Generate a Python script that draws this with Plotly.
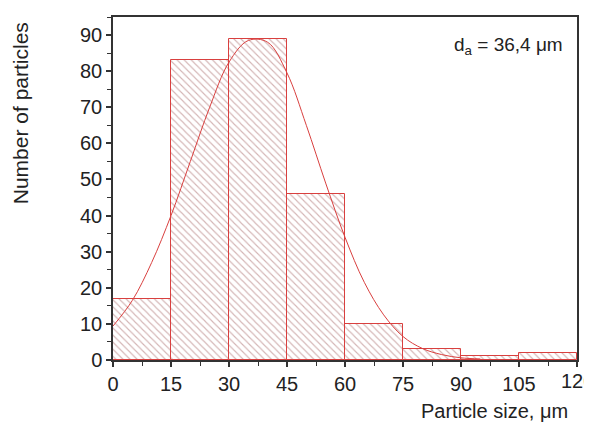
import plotly.graph_objects as go

# histogram bins (left edge) and counts
bin_left = [0, 15, 30, 45, 60, 75, 90, 105]
bin_width = 15
counts = [17, 83, 89, 46, 10, 3, 1, 2]

# fitted curve
fit_x = [0, 5, 10, 15, 20, 25, 30, 35, 40, 45, 50, 55, 60, 65, 70, 75, 80, 85, 90, 95]
fit_y = [9.4, 16.5, 27, 40, 55, 70, 82.5, 88.5, 88, 79.5, 65, 49, 34, 21.5, 12.5, 6.5, 3.2, 1.5, 0.6, 0.3]

x_ticks = [0, 15, 30, 45, 60, 75, 90, 105, 120]
y_ticks = [0, 10, 20, 30, 40, 50, 60, 70, 80, 90]

FONT = "Liberation Sans, Arial, sans-serif"
RED = "#d9403f"
TXT = "#222222"
centers = [b + bin_width / 2 for b in bin_left]

fig = go.Figure()

# hatched fill
fig.add_trace(go.Bar(
    x=centers, y=counts, width=bin_width,
    marker=dict(
        color="white",
        line=dict(width=0),
        pattern=dict(shape="\\", fgcolor="#a86a6a", bgcolor="white",
                     size=5, solidity=0.22),
    ),
    showlegend=False,
))
# red outlines on top
fig.add_trace(go.Bar(
    x=centers, y=counts, width=bin_width,
    marker=dict(color="rgba(0,0,0,0)", line=dict(color=RED, width=1)),
    showlegend=False,
))

fig.add_trace(go.Scatter(
    x=fit_x, y=fit_y, mode="lines",
    line=dict(color=RED, width=1, shape="spline"),
    showlegend=False,
))

axis_common = dict(
    showgrid=False, zeroline=False, showline=True, mirror=True,
    linecolor="#333333", linewidth=1.5,
    ticks="outside", ticklen=5, tickwidth=1.5, tickcolor="#333333",
    tickfont=dict(family=FONT, size=20, color=TXT),
)

fig.update_xaxes(range=[0, 120], tickvals=x_ticks,
                 minor=dict(dtick=7.5, ticks="outside", ticklen=4, tickcolor="#333333", tickwidth=1.2),
                 **axis_common)
fig.update_yaxes(range=[0, 95], tickvals=y_ticks,
                 minor=dict(dtick=5, ticks="outside", ticklen=4, tickcolor="#333333", tickwidth=1.2),
                 **axis_common)

# last tick label gets dropped by plotly at the edge; the reference shows it cut off
fig.add_annotation(text=str(x_ticks[-1]), xref="x", yref="paper",
                   x=x_ticks[-1], y=-0.062, xanchor="center", yanchor="middle", showarrow=False,
                   font=dict(family=FONT, size=20, color=TXT))

fig.add_annotation(text="d<sub>a</sub> = 36,4 μm", xref="paper", yref="paper",
                   x=0.974, y=0.915, xanchor="right", yanchor="middle", showarrow=False,
                   font=dict(family=FONT, size=19, color=TXT))
fig.add_annotation(text="Particle size, μm", xref="paper", yref="paper",
                   x=0.985, y=-0.15, xanchor="right", yanchor="middle", showarrow=False,
                   font=dict(family=FONT, size=20, color=TXT))
fig.add_annotation(text="Number of particles", xref="paper", yref="paper",
                   x=-0.2, y=0.72, xanchor="center", yanchor="middle", showarrow=False,
                   textangle=-90, font=dict(family=FONT, size=21, color=TXT))

fig.update_layout(
    width=584, height=420,
    margin=dict(l=105, r=15, t=7, b=68),
    plot_bgcolor="white", paper_bgcolor="white",
    bargap=0, barmode="overlay",
)

fig.write_html("out.html")
